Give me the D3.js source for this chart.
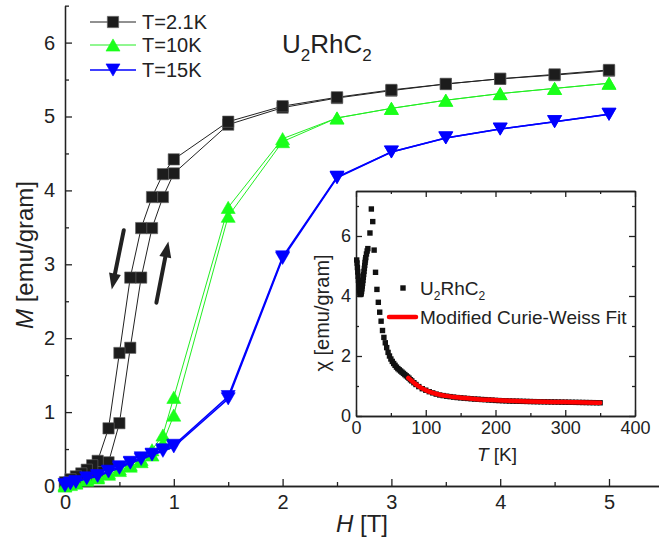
<!DOCTYPE html>
<html><head><meta charset="utf-8">
<script src="https://cdn.jsdelivr.net/npm/d3@7"></script>
<style>body{margin:0;background:#fff}svg{display:block}text{font-family:"Liberation Sans",Arial,sans-serif;fill:#222}</style>
</head><body><svg id="c" width="659" height="554"></svg>
<script>
// ---- main chart data: M(H) loops ----
const blackUpH = [0,0.05,0.1,0.15,0.2,0.3,0.4,0.5,0.6,0.7,0.8,0.9,1.0,1.5,2,2.5,3,3.5,4,4.5,5];
const blackUpM = [0.0,0.03,0.07,0.1,0.14,0.2,0.32,0.85,1.87,2.82,3.49,3.91,4.23,4.89,5.12,5.25,5.35,5.44,5.51,5.56,5.62];
const blackDnH = [5,4.5,4,3.5,3,2.5,2,1.5,1.0,0.9,0.8,0.7,0.6,0.5,0.4,0.3,0.25,0.2,0.15,0.1,0.05,0];
const blackDnM = [5.63,5.57,5.51,5.44,5.36,5.26,5.14,4.93,4.42,4.22,3.91,3.49,2.82,1.80,0.78,0.34,0.28,0.22,0.17,0.13,0.09,0.05];
const greenUpH = [0,0.05,0.1,0.2,0.3,0.4,0.5,0.6,0.7,0.8,0.9,1.0,1.5,2,2.5,3,3.5,4,4.5,5];
const greenUpM = [0,0.02,0.04,0.08,0.11,0.16,0.21,0.27,0.33,0.42,0.58,0.96,3.65,4.66,4.98,5.11,5.22,5.31,5.38,5.45];
const greenDnH = [5,4.5,4,3.5,3,2.5,2,1.5,1.0,0.9,0.8,0.7,0.6,0.5,0.4,0.3,0.2,0.1,0.05,0];
const greenDnM = [5.45,5.38,5.31,5.22,5.11,4.98,4.70,3.77,1.20,0.69,0.49,0.36,0.29,0.23,0.18,0.13,0.1,0.05,0.04,0.02];
const blueUpH = [0,0.05,0.1,0.2,0.3,0.4,0.5,0.6,0.7,0.8,0.9,1.0,1.5,2,2.5,3,3.5,4,4.5,5];
const blueUpM = [0,0.03,0.05,0.1,0.13,0.19,0.24,0.31,0.36,0.42,0.47,0.53,1.18,3.08,4.17,4.52,4.71,4.83,4.93,5.03];
const blueDnH = [5,4.5,4,3.5,3,2.5,2,1.5,1.0,0.9,0.8,0.7,0.6,0.5,0.4,0.3,0.2,0.1,0.05,0];
const blueDnM = [5.03,4.93,4.83,4.71,4.52,4.18,3.10,1.21,0.55,0.49,0.43,0.38,0.32,0.26,0.2,0.14,0.11,0.06,0.04,0.02];
const legendLabels = ["T=2.1K","T=10K","T=15K"];
const xTicks = [0,1,2,3,4,5];
const yTicks = [0,1,2,3,4,5,6];
// sweep-direction arrows [H0,M0,H1,M1]
const arrows = [[0.54,3.46,0.43,2.66],[0.84,2.48,0.95,3.31]];

// ---- inset data: chi(T) ----
const chiT = [1,1.5,2,2.5,3,3.5,4,4.5,5,5.5,6,6.5,7,7.5,8,8.5,9,9.5,10,10.5,11,11.5,12,12.5,13,13.5,14,15,16,17,20,22,24,26,28,30,32,34,36,38,40,42,44,46,48,50,52,54,56,58,60,62,64,66,68,70,72,74,76,78,80,83,86,90,95,100,105,110,115,120,125,130,135,140,145,150,155,160,165,170,175,180,185,190,195,200,205,210,215,220,225,230,235,240,245,250,255,260,265,270,275,280,285,290,295,300,305,310,315,320,325,330,335,340,345,350];
const chiV = [5.2,5.1,4.95,4.8,4.66,4.52,4.4,4.28,4.18,4.1,4.06,4.05,4.06,4.1,4.16,4.24,4.33,4.42,4.52,4.62,4.72,4.82,4.92,5.02,5.12,5.2,5.28,5.4,5.5,5.58,6.1,6.9,6.48,5.53,4.79,4.22,3.79,3.46,3.16,2.85,2.62,2.44,2.28,2.12,2.0,1.9,1.82,1.75,1.69,1.63,1.58,1.54,1.5,1.46,1.42,1.38,1.34,1.3,1.26,1.21,1.17,1.11,1.05,0.98,0.91,0.86,0.81,0.77,0.73,0.7,0.68,0.66,0.645,0.63,0.615,0.605,0.595,0.585,0.575,0.565,0.56,0.55,0.545,0.535,0.53,0.52,0.515,0.51,0.505,0.5,0.497,0.494,0.491,0.488,0.485,0.482,0.479,0.477,0.475,0.473,0.471,0.469,0.467,0.465,0.463,0.461,0.459,0.457,0.455,0.453,0.451,0.449,0.447,0.445,0.443,0.441];
const fitT = [75,80,85,90,100,110,120,130,140,150,170,190,210,230,250,270,290,310,330,350];
const fitV = [1.27,1.17,1.07,0.99,0.86,0.77,0.71,0.67,0.635,0.61,0.57,0.54,0.515,0.497,0.485,0.475,0.467,0.459,0.451,0.444];
const insetXTicks = [0,100,200,300,400];
const insetYTicks = [0,2,4,6];

const svg = d3.select("#c");
const FONT = '"Liberation Sans",Arial,sans-serif';

// ---- main scales ----
const x = d3.scaleLinear().domain([0,5.5]).range([65,663.4]);
const y = d3.scaleLinear().domain([0,6.5]).range([486,5.65]);

function drawAxisStyle(g){ g.selectAll("path,line").attr("stroke","#222").attr("stroke-width",1.3); }

// minor ticks
svg.append("g").attr("transform","translate(0,486)")
  .call(d3.axisBottom(x).tickValues(d3.range(0.5,5.5,1)).tickSize(-4).tickSizeOuter(0).tickFormat(""))
  .call(drawAxisStyle);
svg.append("g").attr("transform","translate(65,0)")
  .call(d3.axisLeft(y).tickValues(d3.range(0.5,6.6,1)).tickSize(-4).tickSizeOuter(0).tickFormat(""))
  .call(drawAxisStyle);
// major
const gx = svg.append("g").attr("transform","translate(0,486)")
  .call(d3.axisBottom(x).tickValues(xTicks).tickSize(-7).tickSizeOuter(0).tickPadding(9).tickFormat(d3.format("d")))
  .call(drawAxisStyle);
gx.selectAll("text").attr("font-size",20).attr("font-family",FONT).attr("fill","#222");
const gy = svg.append("g").attr("transform","translate(65,0)")
  .call(d3.axisLeft(y).tickValues(yTicks).tickSize(-7).tickSizeOuter(0).tickPadding(10).tickFormat(d3.format("d")))
  .call(drawAxisStyle);
gy.selectAll("text").attr("font-size",20).attr("font-family",FONT).attr("fill","#222");

// axis titles
const yl = svg.append("text").attr("transform","translate(33,255) rotate(-90)").attr("text-anchor","middle").attr("font-size",24);
yl.append("tspan").attr("font-style","italic").text("M");
yl.append("tspan").text(" [emu/gram]");
const xl = svg.append("text").attr("x",362).attr("y",532).attr("text-anchor","middle").attr("font-size",24);
xl.append("tspan").attr("font-style","italic").text("H");
xl.append("tspan").text(" [T]");

// title
const tt = svg.append("text").attr("x",282).attr("y",53).attr("font-size",26);
tt.append("tspan").text("U");
tt.append("tspan").attr("font-size",17).attr("dy",8).text("2");
tt.append("tspan").attr("dy",-8).text("RhC");
tt.append("tspan").attr("font-size",17).attr("dy",8).text("2");

// symbols
const sq = d3.symbol().type(d3.symbolSquare).size(128)();
function tri(up,s){ const h=s*0.87; return up?`M0,${-h/2}L${s/2},${h/2}L${-s/2},${h/2}Z`:`M0,${h/2}L${s/2},${-h/2}L${-s/2},${-h/2}Z`; }
const series = [
  {name:legendLabels[0], stroke:"#222", lw:1, sym:sq, fill:"#1c1c1c", msk:"#666", branches:[[blackUpH,blackUpM],[blackDnH,blackDnM]]},
  {name:legendLabels[1], stroke:"#22ee22", lw:1, sym:tri(true,14), fill:"#1aff1a", msk:"#1aff1a", branches:[[greenUpH,greenUpM],[greenDnH,greenDnM]]},
  {name:legendLabels[2], stroke:"#0000ff", lw:1.6, sym:tri(false,14), fill:"#0000ff", msk:"#0000ff", branches:[[blueUpH,blueUpM],[blueDnH,blueDnM]]}
];
const line = d3.line().x(d=>x(d[0])).y(d=>y(d[1]));
series.forEach(s=>{
  const g = svg.append("g");
  s.branches.forEach(([hs,ms])=>{
    const pts = hs.map((h,i)=>[h,ms[i]]);
    g.append("path").attr("d",line(pts)).attr("fill","none").attr("stroke",s.stroke).attr("stroke-width",s.lw);
  });
  s.branches.forEach(([hs,ms])=>{
    hs.forEach((h,i)=>{
      g.append("path").attr("d",s.sym).attr("transform",`translate(${x(h)},${y(ms[i])})`)
        .attr("fill",s.fill).attr("stroke",s.msk).attr("stroke-width",0.6);
    });
  });
});

// arrows
arrows.forEach(a=>{
  const x0=x(a[0]),y0=y(a[1]),x1=x(a[2]),y1=y(a[3]);
  const ang=Math.atan2(y1-y0,x1-x0), L=16, Wd=6;
  const bx=x1-L*Math.cos(ang), by=y1-L*Math.sin(ang);
  svg.append("line").attr("x1",x0).attr("y1",y0).attr("x2",bx).attr("y2",by).attr("stroke","#222").attr("stroke-width",4).attr("stroke-linecap","round");
  const px=-Math.sin(ang)*Wd, py=Math.cos(ang)*Wd;
  svg.append("path").attr("d",`M${x1},${y1}L${bx+px},${by+py}L${bx-px},${by-py}Z`).attr("fill","#222");
});

// legend
const legY = [22,45,70];
series.forEach((s,i)=>{
  svg.append("line").attr("x1",90).attr("x2",136).attr("y1",legY[i]).attr("y2",legY[i]).attr("stroke",s.stroke).attr("stroke-width",s.lw);
  svg.append("path").attr("d",s.sym).attr("transform",`translate(113,${legY[i]})`).attr("fill",s.fill).attr("stroke",s.msk).attr("stroke-width",0.6);
  svg.append("text").attr("x",142).attr("y",legY[i]+7).attr("font-size",20).text(s.name);
});

// ---- inset ----
const xi = d3.scaleLinear().domain([0,400]).range([356,635]);
const yi = d3.scaleLinear().domain([0,7.5]).range([416,191]);
svg.append("rect").attr("x",356).attr("y",191).attr("width",279).attr("height",225).attr("fill","#fff");
function insetAxes(){
  const defs = [
    [d3.axisBottom, xi, "translate(0,416)", insetXTicks, d3.range(50,400,100), true],
    [d3.axisTop, xi, "translate(0,191)", insetXTicks, d3.range(50,400,100), false],
    [d3.axisLeft, yi, "translate(356,0)", insetYTicks, [1,3,5,7], true],
    [d3.axisRight, yi, "translate(635,0)", insetYTicks, [1,3,5,7], false]
  ];
  defs.forEach(([ax,sc,tr,maj,min,lab])=>{
    svg.append("g").attr("transform",tr).call(ax(sc).tickValues(min).tickSize(-3).tickSizeOuter(0).tickFormat("")).call(drawAxisStyle);
    const g = svg.append("g").attr("transform",tr).call(ax(sc).tickValues(maj).tickSize(-6).tickSizeOuter(0).tickPadding(5).tickFormat(lab?d3.format("d"):""));
    g.call(drawAxisStyle);
    g.selectAll("text").attr("font-size",18).attr("font-family",FONT).attr("fill","#222");
  });
}
insetAxes();
const gi = svg.append("g");
chiT.forEach((t,i)=>{
  gi.append("rect").attr("x",xi(t)-2.7).attr("y",yi(chiV[i])-2.7).attr("width",5.4).attr("height",5.4).attr("fill","#111");
});
gi.append("path").attr("d",d3.line().curve(d3.curveMonotoneX).x((d,i)=>xi(fitT[i])).y((d,i)=>yi(fitV[i]))(fitT))
  .attr("fill","none").attr("stroke","#ff0000").attr("stroke-width",4.5).attr("stroke-linecap","round");

// inset legend
svg.append("rect").attr("x",403-2.7).attr("y",288-2.7).attr("width",5.4).attr("height",5.4).attr("fill","#111");
const l1 = svg.append("text").attr("x",420).attr("y",295).attr("font-size",19);
l1.append("tspan").text("U");
l1.append("tspan").attr("font-size",12).attr("dy",5).text("2");
l1.append("tspan").attr("dy",-5).text("RhC");
l1.append("tspan").attr("font-size",12).attr("dy",5).text("2");
svg.append("line").attr("x1",389).attr("x2",416).attr("y1",317).attr("y2",317).attr("stroke","#ff0000").attr("stroke-width",4.5).attr("stroke-linecap","round");
svg.append("text").attr("x",420).attr("y",324).attr("font-size",19).text("Modified Curie-Weiss Fit");

// inset axis titles
svg.append("text").attr("transform","translate(329,313) rotate(-90)").attr("text-anchor","middle").attr("font-size",20).text("χ [emu/gram]");
const til = svg.append("text").attr("x",497).attr("y",461).attr("text-anchor","middle").attr("font-size",19);
til.append("tspan").attr("font-style","italic").text("T");
til.append("tspan").text(" [K]");
</script></body></html>
